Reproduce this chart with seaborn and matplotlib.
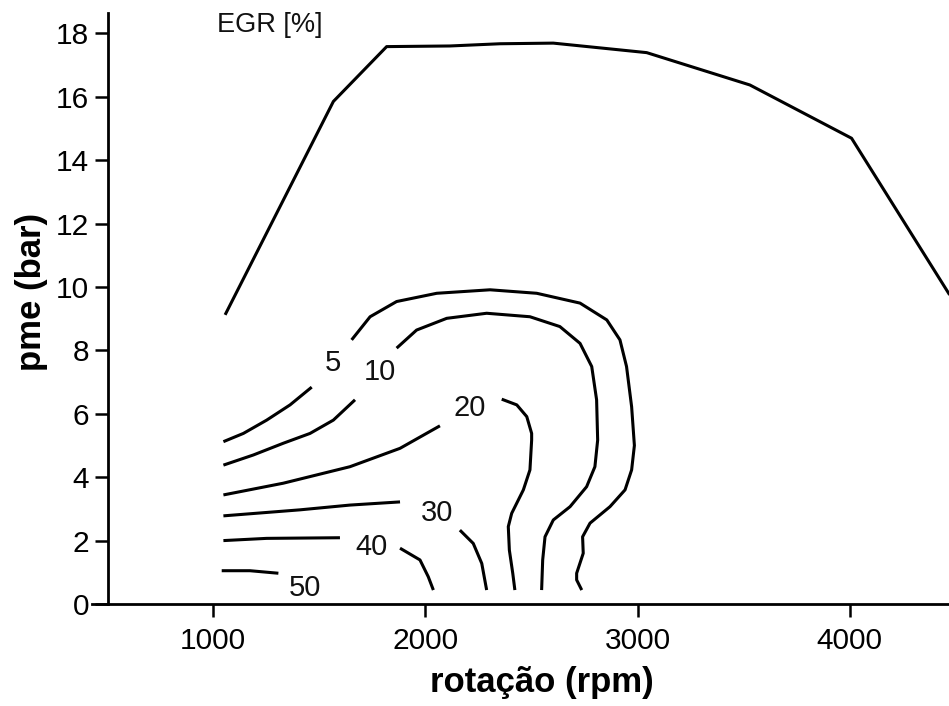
import numpy as np
import pandas as pd
import matplotlib
matplotlib.use("Agg")
import matplotlib.pyplot as plt
import seaborn as sns

# ---- data ----
full_load_rpm = [1057, 1567, 1818, 2116, 2352, 2603, 3043, 3529, 4008, 4470]
full_load_pme = [9.12, 15.85, 17.58, 17.60, 17.67, 17.69, 17.39, 16.37, 14.69, 9.75]

c5a_rpm = [1049, 1143, 1253, 1363, 1465]
c5a_pme = [5.12, 5.38, 5.80, 6.28, 6.84]
c5b_rpm = [1653, 1740, 1865, 2054, 2305, 2525, 2729, 2855, 2917, 2948, 2972,
           2985, 2972, 2941, 2870, 2776, 2741, 2744, 2713, 2713, 2737]
c5b_pme = [8.33, 9.06, 9.54, 9.80, 9.91, 9.80, 9.49, 8.96, 8.33, 7.49, 6.22,
           5.00, 4.23, 3.60, 3.07, 2.55, 2.12, 1.60, 0.97, 0.76, 0.44]

c10a_rpm = [1049, 1190, 1331, 1457, 1567, 1669]
c10a_pme = [4.38, 4.70, 5.07, 5.38, 5.80, 6.44]
c10b_rpm = [1865, 1959, 2101, 2289, 2493, 2634, 2729, 2784, 2807, 2812,
            2799, 2760, 2682, 2603, 2564, 2553, 2548]
c10b_pme = [8.07, 8.64, 9.01, 9.17, 9.06, 8.75, 8.22, 7.49, 6.44, 5.17,
            4.33, 3.70, 3.07, 2.65, 2.12, 1.39, 0.44]

c20a_rpm = [1049, 1331, 1645, 1881, 2069]
c20a_pme = [3.44, 3.81, 4.33, 4.91, 5.62]
c20b_rpm = [2360, 2431, 2478, 2501, 2501, 2493, 2462, 2407, 2391, 2396, 2412, 2422]
c20b_pme = [6.46, 6.28, 5.91, 5.38, 5.17, 4.23, 3.60, 2.86, 2.44, 1.70, 0.97, 0.44]

c30a_rpm = [1049, 1410, 1645, 1881]
c30a_pme = [2.78, 2.97, 3.12, 3.22]
c30b_rpm = [2163, 2226, 2266, 2289]
c30b_pme = [2.33, 1.91, 1.28, 0.44]

c40a_rpm = [1049, 1253, 1598]
c40a_pme = [2.00, 2.07, 2.09]
c40b_rpm = [1881, 1975, 2014, 2038]
c40b_pme = [1.76, 1.39, 0.86, 0.44]

c50_rpm = [1041, 1174, 1308]
c50_pme = [1.05, 1.05, 0.97]

label_text = ["5", "10", "20", "30", "40", "50"]
label_rpm = [1567, 1787, 2211, 2054, 1747, 1433]
label_pme = [7.59, 7.33, 6.17, 2.86, 1.81, 0.50]

x_ticks = [1000, 2000, 3000, 4000]
y_ticks = [0, 2, 4, 6, 8, 10, 12, 14, 16, 18]

# ---- build long table ----
segments = {
    "full": (full_load_rpm, full_load_pme),
    "5a": (c5a_rpm, c5a_pme), "5b": (c5b_rpm, c5b_pme),
    "10a": (c10a_rpm, c10a_pme), "10b": (c10b_rpm, c10b_pme),
    "20a": (c20a_rpm, c20a_pme), "20b": (c20b_rpm, c20b_pme),
    "30a": (c30a_rpm, c30a_pme), "30b": (c30b_rpm, c30b_pme),
    "40a": (c40a_rpm, c40a_pme), "40b": (c40b_rpm, c40b_pme),
    "50": (c50_rpm, c50_pme),
}
rows = []
for seg, (xs, ys) in segments.items():
    for i, (xv, yv) in enumerate(zip(xs, ys)):
        rows.append({"seg": seg, "order": i, "rpm": xv, "pme": yv})
df = pd.DataFrame(rows)

sns.set_style("ticks")
plt.rcParams["font.family"] = ["Liberation Sans", "DejaVu Sans"]
plt.rcParams["text.color"] = "black"
plt.rcParams["axes.edgecolor"] = "black"

fig = plt.figure(figsize=(9.49, 7.06), dpi=100)
ax = fig.add_axes([92/949, 102/706, 857/949, 591/706])

sns.lineplot(data=df, x="rpm", y="pme", units="seg", estimator=None, sort=False,
             color="black", linewidth=2.2, ax=ax, legend=False)
for ln in ax.get_lines():
    ln.set_solid_capstyle("butt")
    ln.set_solid_joinstyle("round")

for t, xv, yv in zip(label_text, label_rpm, label_pme):
    ax.text(xv, yv, t, fontsize=21, ha="center", va="center", color="#111111")

ax.text(1019, 18.04, "EGR [%]", fontsize=19.5, ha="left", va="baseline", color="#111111")

ax.set_xlim(430, 4467)
ax.set_ylim(0, 18.64)
ax.set_xticks(x_ticks)
ax.set_yticks(y_ticks)
ax.set_xticklabels([str(v) for v in x_ticks])
ax.set_yticklabels([str(v) for v in y_ticks])

for s in ["top", "right"]:
    ax.spines[s].set_visible(False)
ax.spines["left"].set_position(("data", 505))
ax.spines["left"].set_linewidth(2.0)
ax.spines["bottom"].set_linewidth(2.0)
ax.spines["left"].set_color("black")
ax.spines["bottom"].set_color("black")
ax.tick_params(axis="both", direction="out", length=9.5, width=1.8, labelsize=21.5,
               colors="black")
ax.tick_params(axis="x", pad=7)
ax.tick_params(axis="y", pad=4)

ax.set_xlabel("rotação (rpm)", fontsize=25, fontweight="bold", color="black")
ax.set_ylabel("pme (bar)", fontsize=25, fontweight="bold", color="black")
ax.xaxis.label.set_va("top")
ax.xaxis.set_label_coords(0.525, -0.105)
ax.yaxis.label.set_va("center")
ax.yaxis.set_label_coords(-0.071, 0.528)

fig.savefig("out.png", dpi=100)
